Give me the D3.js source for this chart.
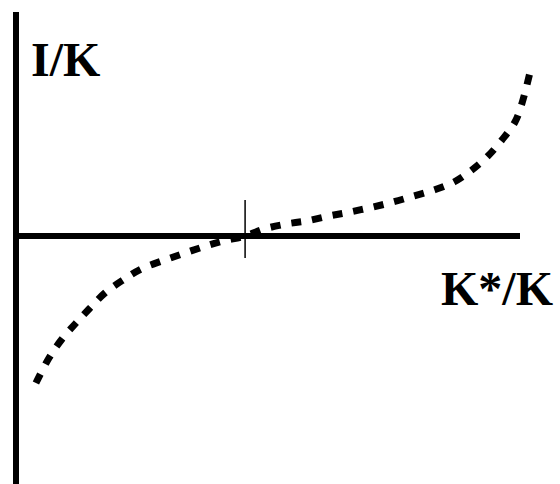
<!DOCTYPE html>
<html>
<head>
<meta charset="utf-8">
<script src="https://cdn.jsdelivr.net/npm/d3@7"></script>
<style>
  html, body { margin: 0; padding: 0; background: #fff; }
  svg { display: block; }
</style>
</head>
<body>
<svg id="chart" width="560" height="484"></svg>
<script>
// Data (K*/K, I/K)
const kRatio = [0.087, 0.144, 0.201, 0.262, 0.319, 0.388, 0.467, 0.546, 0.637, 0.725, 0.816, 0.904, 1.0,
  1.083, 1.179, 1.266, 1.366, 1.458, 1.558, 1.646, 1.737, 1.825, 1.912, 1.990, 2.060, 2.121, 2.178, 2.209, 2.244];
const iRatio = [-1.47, -1.22, -1.03, -0.87, -0.73, -0.57, -0.44, -0.33, -0.25, -0.18, -0.11, -0.05, 0.0,
  0.07, 0.12, 0.15, 0.20, 0.24, 0.29, 0.34, 0.40, 0.46, 0.54, 0.66, 0.80, 0.96, 1.14, 1.33, 1.64];
const steadyState = [1.0];
const yLabel = "I/K";
const xLabel = "K*/K";

const svg = d3.select("#chart");
const x = d3.scaleLinear().domain([0, 2.2]).range([16, 520]);
const y = d3.scaleLinear().domain([-2.48, 2.24]).range([484, 12]);

svg.append("line")
  .attr("x1", x(0)).attr("x2", x(0))
  .attr("y1", y(2.24)).attr("y2", y(-2.48))
  .attr("stroke", "#000").attr("stroke-width", 6);

svg.append("line")
  .attr("x1", x(0)).attr("x2", x(2.2))
  .attr("y1", y(0)).attr("y2", y(0))
  .attr("stroke", "#000").attr("stroke-width", 6);

svg.selectAll("line.tick").data(steadyState).enter().append("line")
  .attr("class", "tick")
  .attr("x1", d => x(d)).attr("x2", d => x(d))
  .attr("y1", y(0.36)).attr("y2", y(-0.22))
  .attr("stroke", "#000").attr("stroke-width", 1.5);

const pts = kRatio.map((k, i) => [k, iRatio[i]]);
const line = d3.line().x(d => x(d[0])).y(d => y(d[1])).curve(d3.curveCatmullRom.alpha(0.5));
svg.append("path")
  .attr("d", line(pts))
  .attr("fill", "none")
  .attr("stroke", "#000")
  .attr("stroke-width", 7)
  .attr("stroke-dasharray", "10,11");

svg.append("text")
  .attr("x", 31).attr("y", 76)
  .attr("font-family", "serif")
  .attr("font-weight", "bold")
  .attr("font-size", 48)
  .text(yLabel);

svg.append("text")
  .attr("x", 441).attr("y", 305)
  .attr("font-family", "Times New Roman, Times, serif")
  .attr("font-weight", "bold")
  .attr("font-size", 48)
  .text(xLabel);
</script>
</body>
</html>
